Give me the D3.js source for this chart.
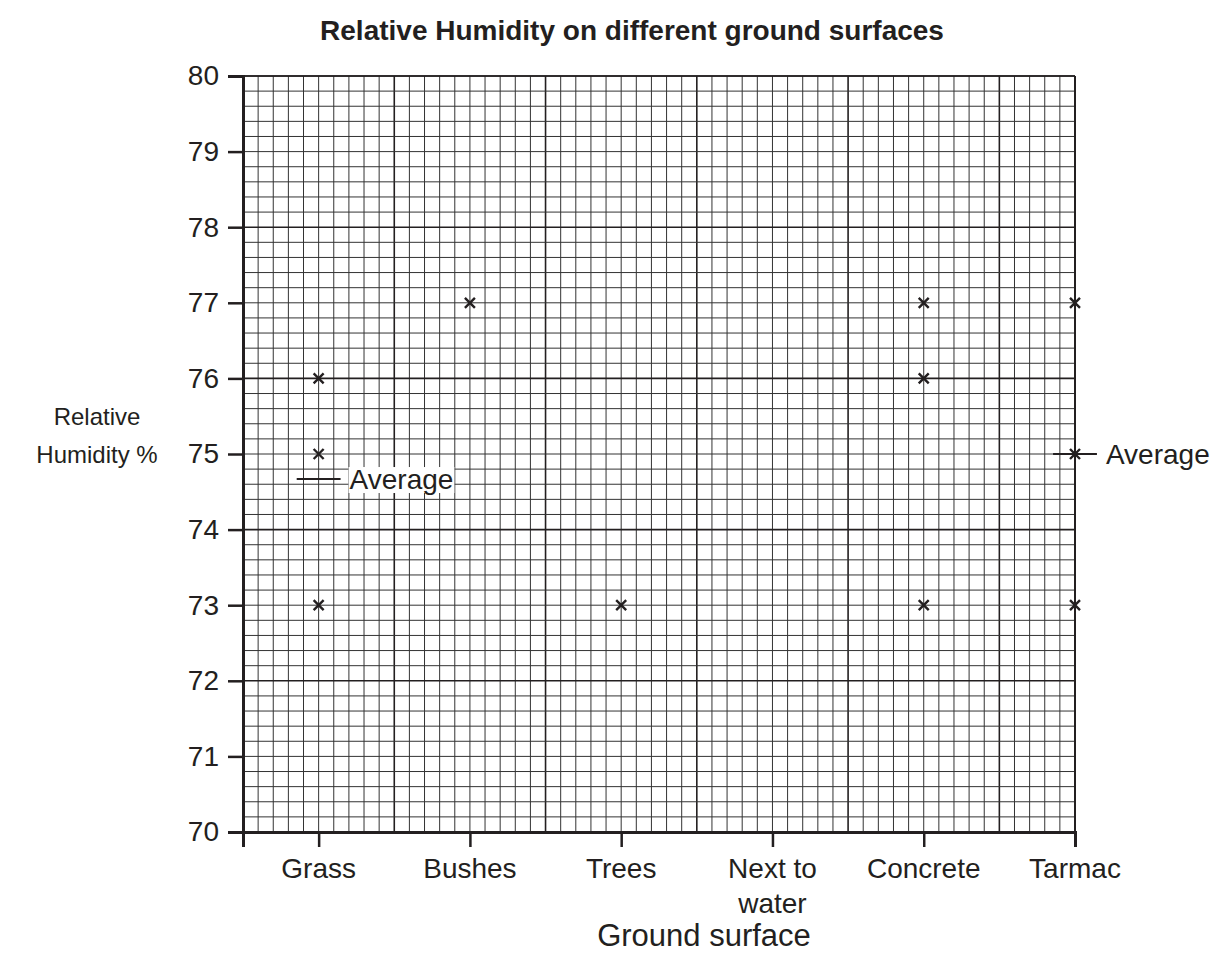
<!DOCTYPE html>
<html><head><meta charset="utf-8">
<script src="https://cdn.jsdelivr.net/npm/d3@7"></script>
<style>body{margin:0;background:#fff;} text{font-family:"Liberation Sans",Arial,sans-serif;fill:#231f20;}</style>
</head><body>
<svg id="c" width="1221" height="977"></svg>
<script>
const categories = ["Grass","Bushes","Trees","Next to water","Concrete","Tarmac"];
const categoryLines = [["Grass"],["Bushes"],["Trees"],["Next to","water"],["Concrete"],["Tarmac"]];
const grassValues = [76, 75, 73];
const bushesValues = [77];
const treesValues = [73];
const nextToWaterValues = [];
const concreteValues = [77, 76, 73];
const tarmacValues = [77, 75, 73];
const seriesValues = [grassValues, bushesValues, treesValues, nextToWaterValues, concreteValues, tarmacValues];
const averages = [{cat: 0, value: 74.67}, {cat: 5, value: 75}];
const yTicks = [70,71,72,73,74,75,76,77,78,79,80];

const svg = d3.select("#c");
const plotLeft = 243, plotRight = 1075, plotTop = 76, plotBottom = 832;
const x = d3.scaleLinear().domain([-0.5, 5]).range([plotLeft, plotRight]);
const y = d3.scaleLinear().domain([70, 80]).range([plotBottom, plotTop]);
const ink = "#231f20";

// grid
const g = svg.append("g");
const minorX = d3.range(0, 56).map(i => -0.5 + i * 0.1);
const minorY = d3.range(0, 51).map(i => 70 + i * 0.2);
g.selectAll("line.vx").data(minorX).enter().append("line")
  .attr("x1", d => x(d)).attr("x2", d => x(d)).attr("y1", y(70)).attr("y2", y(80))
  .attr("stroke", (d,i) => i % 10 === 0 ? ink : "#333")
  .attr("stroke-width", (d,i) => i % 10 === 0 ? 1.6 : 1);
g.selectAll("line.hy").data(minorY).enter().append("line")
  .attr("y1", d => y(d)).attr("y2", d => y(d)).attr("x1", x(-0.5)).attr("x2", x(5))
  .attr("stroke", (d,i) => i % 10 === 0 ? ink : "#333")
  .attr("stroke-width", (d,i) => i % 10 === 0 ? 1.6 : 1);
svg.append("line").attr("x1", x(5)).attr("x2", x(5)).attr("y1", y(70)).attr("y2", y(80)).attr("stroke", ink).attr("stroke-width", 2);
svg.append("line").attr("x1", x(-0.5)).attr("x2", x(5)).attr("y1", y(80)).attr("y2", y(80)).attr("stroke", ink).attr("stroke-width", 1.6);

// axes
const yAxis = d3.axisLeft(y).tickValues(yTicks).tickSize(15).tickPadding(9).tickFormat(d3.format("d"));
const ya = svg.append("g").attr("transform", `translate(${plotLeft},0)`).call(yAxis);
ya.select(".domain").attr("stroke", ink).attr("stroke-width", 3);
ya.selectAll(".tick line").attr("stroke", ink).attr("stroke-width", 2.5);
ya.selectAll(".tick text").attr("font-size", 28).attr("fill", ink).attr("font-family", "Liberation Sans, Arial, sans-serif");

const xAxis = d3.axisBottom(x).tickValues(d3.range(0, 6)).tickSize(15).tickFormat("");
const xa = svg.append("g").attr("transform", `translate(0,${plotBottom})`).call(xAxis);
xa.select(".domain").attr("stroke", ink).attr("stroke-width", 3);
xa.selectAll(".tick line").attr("stroke", ink).attr("stroke-width", 2.5);

// category labels
categoryLines.forEach((lines, i) => {
  const t = svg.append("text").attr("x", x(i)).attr("y", 878).attr("text-anchor", "middle").attr("font-size", 28);
  lines.forEach((l, j) => t.append("tspan").attr("x", x(i)).attr("dy", j === 0 ? 0 : 35).text(l));
});

// points
const pts = [];
seriesValues.forEach((vals, i) => vals.forEach(v => pts.push({cat: i, v})));
const mk = 5;
const pg = svg.append("g");
pts.forEach(p => {
  const cx = x(p.cat), cy = y(p.v);
  pg.append("path").attr("d", `M${cx-mk},${cy-mk}L${cx+mk},${cy+mk}M${cx-mk},${cy+mk}L${cx+mk},${cy-mk}`)
    .attr("stroke", ink).attr("stroke-width", 2.4);
});

// averages
averages.forEach(a => {
  const cy = y(a.value);
  const half = 0.145;
  const ag = svg.append("g");
  ag.append("line").attr("x1", x(a.cat - half)).attr("x2", x(a.cat + half)).attr("y1", cy).attr("y2", cy)
    .attr("stroke", ink).attr("stroke-width", 2);
  const tx = x(a.cat + half) + 9;
  const rect = ag.append("rect").attr("fill", "#fff");
  const t = ag.append("text").attr("x", tx).attr("y", cy).attr("dy", "0.36em").attr("font-size", 28).text("Average");
  const bb = t.node().getBBox();
  rect.attr("x", bb.x - 1).attr("y", bb.y + 3).attr("width", bb.width + 2).attr("height", bb.height - 5);
});

// titles
svg.append("text").attr("x", 632).attr("y", 40).attr("text-anchor", "middle").attr("font-size", 28).attr("font-weight", "bold").text("Relative Humidity on different ground surfaces");
const yl = svg.append("text").attr("x", 97).attr("y", 425).attr("text-anchor", "middle").attr("font-size", 24);
yl.append("tspan").attr("x", 97).attr("dy", 0).text("Relative");
yl.append("tspan").attr("x", 97).attr("dy", 38).text("Humidity %");
svg.append("text").attr("x", 704).attr("y", 946).attr("text-anchor", "middle").attr("font-size", 31).text("Ground surface");
</script>
</body></html>
